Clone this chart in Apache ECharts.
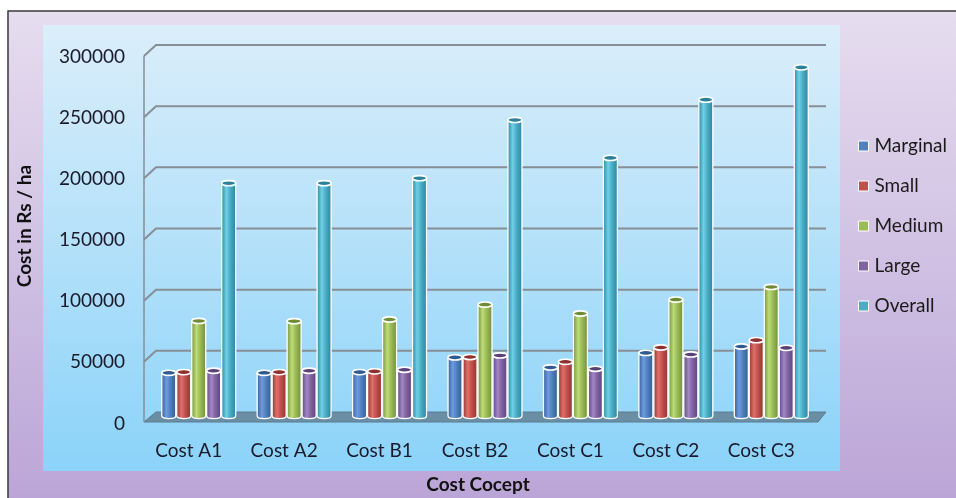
<!DOCTYPE html>
<html>
<head>
<meta charset="utf-8">
<script src="https://cdn.jsdelivr.net/npm/echarts@6/dist/echarts.min.js"></script>
<style>html,body{margin:0;padding:0;background:#fff}#c{width:956px;height:498px}</style>
</head>
<body>
<div id="c"></div>
<script>
var categories = ['Cost A1', 'Cost A2', 'Cost B1', 'Cost B2', 'Cost C1', 'Cost C2', 'Cost C3'];
var seriesNames = ['Marginal', 'Small', 'Medium', 'Large', 'Overall'];
var marginal = [35300, 35300, 35900, 47900, 39700, 51600, 56800];
var small    = [35900, 35900, 36500, 48200, 44300, 56000, 62000];
var medium   = [77700, 77500, 78900, 91100, 83800, 95200, 105500];
var large    = [37000, 37000, 37800, 49500, 38600, 50300, 55700];
var overall  = [190300, 190300, 194400, 242000, 211000, 258600, 285000];
var yTicks = [0, 50000, 100000, 150000, 200000, 250000, 300000];

var values = [marginal, small, medium, large, overall];
var palette = [
  {base: '#4f81bd', light: '#6f9be0', dark: '#2f5a8f'},
  {base: '#c0504d', light: '#e0706a', dark: '#8e302d'},
  {base: '#9bbb59', light: '#bedc78', dark: '#6e8c35'},
  {base: '#8064a2', light: '#a287c6', dark: '#594177'},
  {base: '#4bacc6', light: '#6fd0e6', dark: '#2a8199'}
];
var FONT = 'Lato, "Open Sans", sans-serif';

var chart = echarts.init(document.getElementById('c'));

function cylinder(sIdx) {
  var col = palette[sIdx];
  return function (params, api) {
    var cat = api.value(0), v = api.value(1);
    var top = api.coord([cat, v]);
    var base = api.coord([cat, 0]);
    var band = api.size([1, 0])[0];
    var pitch = band * 0.157;
    var w = pitch - 1;
    var cx = top[0] + (sIdx - 2) * pitch;
    var x0 = cx - w / 2, x1 = cx + w / 2;
    var rx = w / 2, ry = 2.6;
    var yt = top[1], yb = base[1];
    var grad = new echarts.graphic.LinearGradient(0, 0, 1, 0, [
      {offset: 0, color: col.dark},
      {offset: 0.35, color: col.light},
      {offset: 0.6, color: col.base},
      {offset: 1, color: col.dark}
    ]);
    var d = 'M' + x0 + ' ' + yt + ' L' + x0 + ' ' + yb +
            ' A' + rx + ' ' + ry + ' 0 0 0 ' + x1 + ' ' + yb +
            ' L' + x1 + ' ' + yt + ' Z';
    return {
      type: 'group',
      children: [
        {type: 'path', shape: {pathData: d},
         style: {fill: grad, stroke: '#ffffff', lineWidth: 1.3}},
        {type: 'ellipse', shape: {cx: cx, cy: yt, rx: rx, ry: ry},
         style: {fill: col.dark, stroke: '#ffffff', lineWidth: 1.6}}
      ]
    };
  };
}

function frame(params, api) {
  var cs = params.coordSys;
  var v = api.value(1);
  var p = api.coord([0, v]);
  var y = p[1];
  var xl = cs.x, xr = cs.x + cs.width;
  var children = [];
  if (v === 0) {
    children.push({type: 'polygon',
      shape: {points: [[xl + 5, y - 4], [xr + 7, y - 4], [xr - 1, y + 6], [xl - 7, y + 6]]},
      style: {fill: '#6a8ea3', stroke: '#5a7d92', lineWidth: 1}});
    var ytop = api.coord([0, yTicks[yTicks.length - 1]])[1];
    children.push({type: 'line', shape: {x1: xl - 7, y1: ytop + 7, x2: xl - 7, y2: y + 6},
      style: {stroke: '#868e96', lineWidth: 1.5}});
  } else {
    children.push({type: 'polyline',
      shape: {points: [[xl - 7, y + 7], [xl + 5, y - 4], [xr + 7, y - 4]]},
      style: {stroke: '#868e96', lineWidth: 2, fill: null}});
  }
  return {type: 'group', children: children};
}

var series = [{
  type: 'custom',
  name: '__frame',
  renderItem: frame,
  data: yTicks.map(function (t) { return [0, t]; }),
  z: 1,
  silent: true,
  tooltip: {show: false}
}];
for (var i = 0; i < values.length; i++) {
  series.push({
    type: 'custom',
    name: seriesNames[i],
    renderItem: cylinder(i),
    itemStyle: {color: palette[i].base},
    data: values[i].map(function (val, k) { return [k, val]; }),
    z: 3 + i
  });
}

chart.setOption({
  animation: false,
  backgroundColor: '#ffffff',
  graphic: [
    {type: 'rect', z: -10, silent: true,
     shape: {x: 8, y: 11, width: 1000, height: 600},
     style: {fill: new echarts.graphic.LinearGradient(0, 0, 0, 1, [
       {offset: 0, color: '#e6ddef'}, {offset: 1, color: '#b198d2'}]),
       stroke: '#3a3a3a', lineWidth: 1.5}},
    {type: 'rect', z: -9, silent: true,
     shape: {x: 43, y: 25, width: 797, height: 446},
     style: {fill: new echarts.graphic.LinearGradient(0, 0, 0, 1, [
       {offset: 0, color: '#dbeefa'}, {offset: 1, color: '#8bd3f9'}])}},
    {type: 'text', z: 10, silent: true, x: 25, y: 226, rotation: Math.PI / 2,
     style: {text: 'Cost in Rs / ha', font: 'bold 19px ' + FONT, fill: '#111',
             align: 'center', verticalAlign: 'middle'}},
    {type: 'text', z: 10, silent: true, x: 478, y: 485,
     style: {text: 'Cost Cocept', font: 'bold 19px ' + FONT, fill: '#111',
             align: 'center', verticalAlign: 'middle'}}
  ],
  grid: {left: 151, right: 137, top: 49, bottom: 82, containLabel: false},
  legend: {
    orient: 'vertical', left: 853, top: 131,
    data: seriesNames,
    icon: 'rect', itemWidth: 10, itemHeight: 10, itemGap: 20,
    itemStyle: {borderColor: '#ffffff', borderWidth: 1},
    textStyle: {fontFamily: FONT, fontSize: 19, color: '#1a1a1a', lineHeight: 20, padding: [0, 0, 0, 1]}
  },
  xAxis: {
    type: 'category', data: categories,
    axisLine: {show: false}, axisTick: {show: false}, splitLine: {show: false},
    axisLabel: {margin: 25, interval: 0, hideOverlap: false,
      formatter: function (v) { return '{a|' + v + '}{b| }'; },
      rich: {a: {fontFamily: FONT, fontSize: 19, color: '#1a1a2a'},
             b: {fontFamily: FONT, fontSize: 19, width: 20}}}
  },
  yAxis: {
    type: 'value', min: 0, max: 300000, interval: 50000,
    axisLine: {show: false}, axisTick: {show: false}, splitLine: {show: false},
    axisLabel: {margin: 26,
      formatter: function (v) { return '{a|' + String(v) + '}'; },
      rich: {a: {fontFamily: FONT, fontSize: 19, color: '#1a1a2a', padding: [15, 0, 0, 0]}}}
  },
  series: series
});
</script>
</body>
</html>
